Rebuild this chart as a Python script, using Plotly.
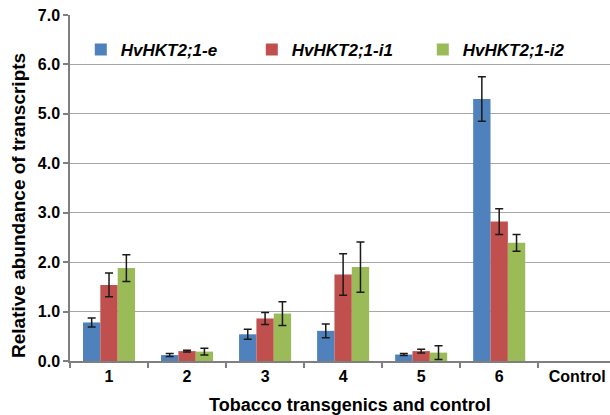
import plotly.graph_objects as go

# Transgenic lines plus control
categories = ["1", "2", "3", "4", "5", "6", "Control"]

# Relative transcript abundance (mean) per construct
hkt_e = [0.78, 0.12, 0.54, 0.61, 0.13, 5.30, 0.0]
hkt_i1 = [1.54, 0.20, 0.86, 1.75, 0.20, 2.82, 0.0]
hkt_i2 = [1.88, 0.19, 0.96, 1.90, 0.17, 2.39, 0.0]

# Standard errors for transgenic lines 1-6 (control has none)
err_e = [0.09, 0.03, 0.10, 0.14, 0.02, 0.45]
err_i1 = [0.24, 0.02, 0.12, 0.42, 0.04, 0.26]
err_i2 = [0.27, 0.07, 0.24, 0.51, 0.14, 0.17]

series_names = ["HvHKT2;1-e", "HvHKT2;1-i1", "HvHKT2;1-i2"]
series_colors = ["#4F81BD", "#C0504D", "#9BBB59"]

y_ticks = [0, 1, 2, 3, 4, 5, 6, 7]

FONT = "Liberation Sans, Arial, sans-serif"

fig = go.Figure()
for name, vals, errs, col in zip(series_names, [hkt_e, hkt_i1, hkt_i2],
                                 [err_e, err_i1, err_i2], series_colors):
    fig.add_trace(go.Bar(
        x=categories, y=vals, name=name,
        marker=dict(color=col, line=dict(width=0)),
        error_y=dict(type="data", array=errs, visible=True,
                     color="#1a1a1a", thickness=1.5, width=4),
    ))

W, H = 610, 415
L, R, T, B = 70, 0, 15, 54
PW, PH = W - L - R, H - T - B

fig.update_layout(
    width=W, height=H,
    margin=dict(l=L, r=R, t=T, b=B),
    paper_bgcolor="white", plot_bgcolor="white",
    barmode="group", bargap=0.333, bargroupgap=0.0,
    font=dict(family=FONT, color="black"),
    showlegend=True,
    legend=dict(
        orientation="h", x=0.02, y=(H - B - 50) / PH,
        xanchor="left", yanchor="middle",
        entrywidth=126, entrywidthmode="pixels",
        font=dict(size=17, family=FONT, color="black", weight="bold",
                  style="italic"),
        bgcolor="rgba(0,0,0,0)", itemclick=False,
    ),
    xaxis=dict(
        type="category", range=[-0.5, 6.42],
        categoryorder="array", categoryarray=categories,
        showgrid=False, showline=True, linecolor="#7f7f7f", linewidth=1.5,
        ticks="outside", tickson="boundaries", ticklen=5,
        tickcolor="#7f7f7f", tickwidth=1.5,
        tickfont=dict(size=16, family=FONT, color="black", weight="bold"),
    ),
    yaxis=dict(
        range=[0, 7], tickvals=y_ticks, tickformat=".1f",
        showgrid=True, gridcolor="#a6a6a6", gridwidth=1.2,
        showline=True, linecolor="#7f7f7f", linewidth=1.5,
        ticks="outside", ticklen=5, tickcolor="#7f7f7f", tickwidth=1.5,
        tickfont=dict(size=16, family=FONT, color="black", weight="bold"),
        zeroline=False,
    ),
    annotations=[
        dict(text="Tobacco transgenics and control", xref="paper",
             yref="paper", x=(350 - L) / PW, y=-(405 - (H - B)) / PH,
             xanchor="center", yanchor="middle", showarrow=False,
             font=dict(size=18, family=FONT, color="black", weight="bold")),
        dict(text="Relative abundance of transcripts", xref="paper",
             yref="paper", x=-(L - 18) / PW,
             y=(H - B - 206) / PH, textangle=-90,
             xanchor="center", yanchor="middle", showarrow=False,
             font=dict(size=19, family=FONT, color="black", weight="bold")),
    ],
)

fig.write_html("out.html")
